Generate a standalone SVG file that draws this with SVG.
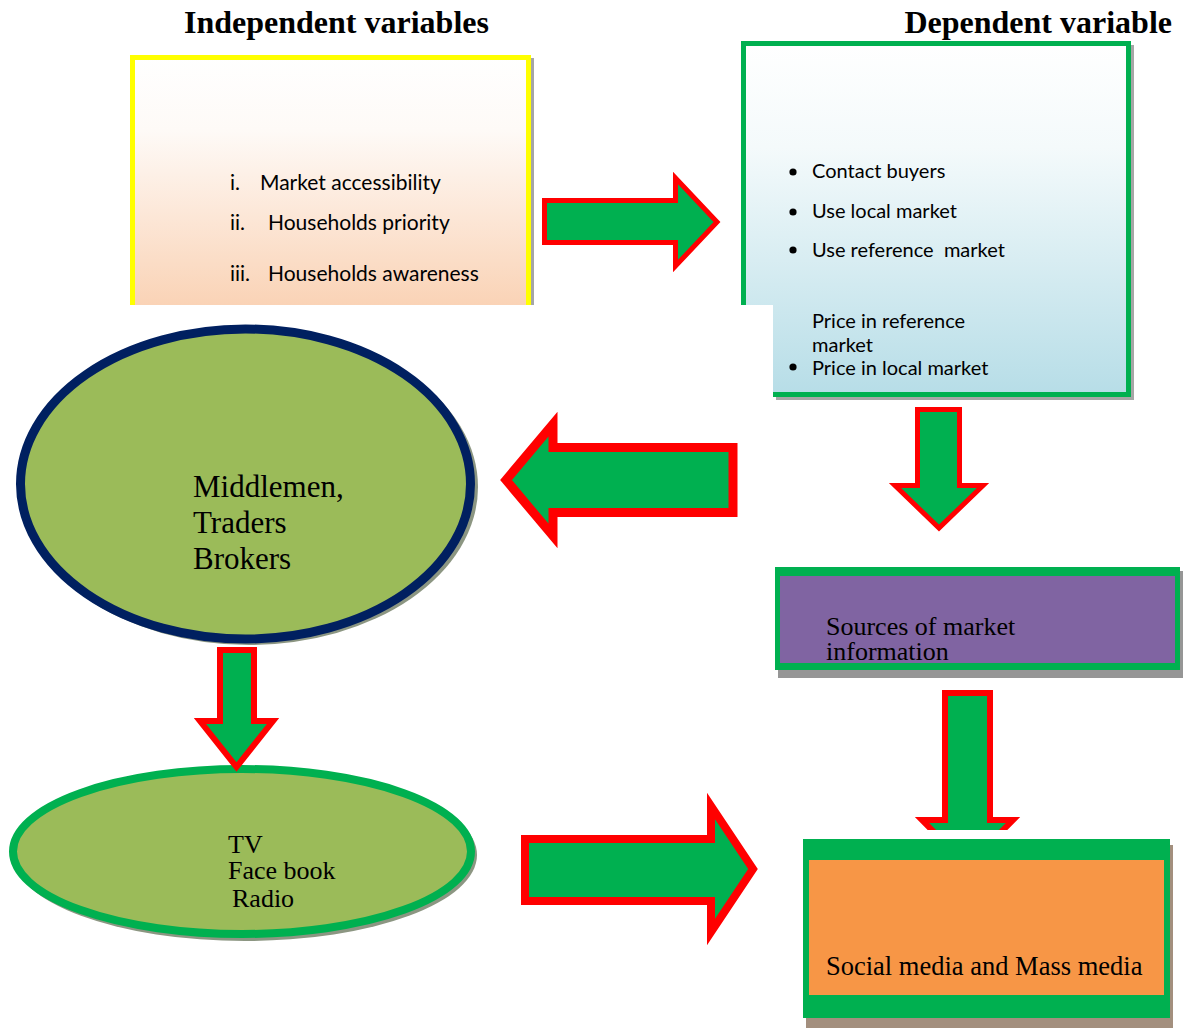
<svg xmlns="http://www.w3.org/2000/svg" width="1184" height="1028" viewBox="0 0 1184 1028">
<style>
.head{font-family:"Liberation Serif",serif;font-weight:bold;font-size:32px;fill:#000}
.cal{font-family:Lato,"Open Sans",sans-serif;font-size:20px;fill:#000}
.cal21{font-family:Lato,"Open Sans",sans-serif;font-size:21px;fill:#000}
.ser{font-family:"Liberation Serif",serif;fill:#000}
.arrow{fill:#00b050;stroke:#ff0000;stroke-linejoin:miter}
</style>
<defs>
<linearGradient id="gPeach" x1="0" y1="0" x2="0" y2="1">
<stop offset="0" stop-color="#ffffff"/>
<stop offset="0.3" stop-color="#fefaf7"/>
<stop offset="1" stop-color="#fad3b6"/>
</linearGradient>
<linearGradient id="gBlue" x1="0" y1="0" x2="0" y2="1">
<stop offset="0" stop-color="#ffffff"/>
<stop offset="0.3" stop-color="#f4fafb"/>
<stop offset="1" stop-color="#b6dde7"/>
</linearGradient>
<clipPath id="cutTop"><rect x="0" y="0" width="1184" height="830"/></clipPath>
</defs>
<rect width="1184" height="1028" fill="#ffffff"/>

<text class="head" x="184" y="33">Independent variables</text>
<text class="head" x="1172" y="33" text-anchor="end">Dependent variable</text>

<g id="independent">
<rect x="531" y="58" width="3" height="247" fill="#a6a6a6"/>
<rect x="130" y="55" width="401" height="250" fill="url(#gPeach)"/>
<path d="M132.5,305 V57.5 H528.5 V305" fill="none" stroke="#ffff00" stroke-width="5"/>
<text class="cal21" x="230" y="190">i.</text><text class="cal21" x="260" y="190">Market accessibility</text>
<text class="cal21" x="230" y="230">ii.</text><text class="cal21" x="268" y="230">Households priority</text>
<text class="cal21" x="230" y="281">iii.</text><text class="cal21" x="268" y="281">Households awareness</text>
</g>

<g id="dependent">
<path d="M776,400 H1134 V45 H1131 V397 H776 Z" fill="#a6a6a6"/>
<path d="M741,41 H1131 V397 H773 V305 H741 Z" fill="url(#gBlue)"/>
<path d="M773,394.5 H1128.5 V43.5 H743.5 V305" fill="none" stroke="#00b050" stroke-width="5"/>
<circle cx="793" cy="172" r="3.6" fill="#000"/>
<circle cx="793" cy="212" r="3.6" fill="#000"/>
<circle cx="793" cy="250" r="3.6" fill="#000"/>
<circle cx="793" cy="367" r="3.6" fill="#000"/>
<text class="cal" x="812" y="178">Contact buyers</text>
<text class="cal" x="812" y="218">Use local market</text>
<text class="cal" x="812" y="257" xml:space="preserve">Use reference  market</text>
<text class="cal" x="812" y="328">Price in reference</text>
<text class="cal" x="812" y="352">market</text>
<text class="cal" x="812" y="375">Price in local market</text>
</g>

<g id="middlemen">
<ellipse cx="249" cy="487" rx="229" ry="158" fill="#8c9682"/>
<ellipse cx="245.5" cy="484" rx="225" ry="155" fill="#9bbb59" stroke="#002060" stroke-width="9"/>
<text class="ser" font-size="31" x="193" y="497">Middlemen,</text>
<text class="ser" font-size="31" x="193" y="533">Traders</text>
<text class="ser" font-size="31" x="193" y="569">Brokers</text>
</g>

<g id="media-channels">
<ellipse cx="245" cy="855" rx="232" ry="86" fill="#8c9682"/>
<ellipse cx="242" cy="851.5" rx="229" ry="82.5" fill="#9bbb59" stroke="#00b050" stroke-width="8"/>
<text class="ser" font-size="26" x="228" y="853">TV</text>
<text class="ser" font-size="26" x="228" y="879">Face book</text>
<text class="ser" font-size="26" x="232" y="907">Radio</text>
</g>

<g id="sources">
<rect x="778" y="571" width="405" height="107" fill="#969696"/>
<rect x="775" y="567" width="405" height="103" fill="#00b050"/>
<rect x="780" y="576" width="395" height="87" fill="#8064a2"/>
<text class="ser" font-size="26" x="826" y="635">Sources of market</text>
<text class="ser" font-size="26" x="826" y="660">information</text>
</g>

<g id="social-media">
<rect x="806" y="845" width="367" height="183" fill="#a38f7e"/>
<rect x="803" y="839" width="367" height="179" fill="#00b050"/>
<rect x="809" y="860" width="355" height="135" fill="#f79646"/>
<text class="ser" font-size="26.5" x="826" y="975">Social media and Mass media</text>
</g>

<g id="connectors">
<path class="arrow" stroke-width="5" d="M544.5,200.5 H675.5 V178 L717,222 L675.5,266 V242.5 H544.5 Z"/>
<path class="arrow" stroke-width="9" d="M733,447.5 H553 V424 L506,480 L553,536 V512.5 H733 Z"/>
<path class="arrow" stroke-width="5" d="M917.5,409.5 H959.5 V485.5 H983 L939,528 L895,485.5 H917.5 Z"/>
<path class="arrow" stroke-width="6" clip-path="url(#cutTop)" d="M945,693 H990 V820 H1013 L967.5,866 L922,820 H945 Z"/>
<path class="arrow" stroke-width="6" d="M220,650 H254 V721 H273 L236.5,767 L200,721 H220 Z"/>
<path class="arrow" stroke-width="8" d="M525,839 H711 V806 L753,869 L711,932 V901 H525 Z"/>
</g>
</svg>
